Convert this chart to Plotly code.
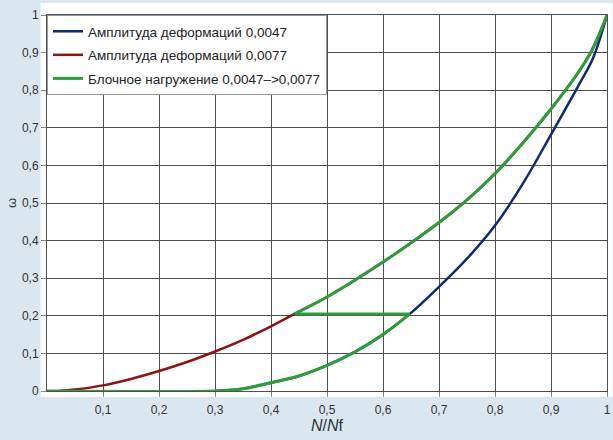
import plotly.graph_objects as go

# ---- data ----
# Amplitude 0.0047 (blue) damage curve
blue_x = [0.30, 0.35, 0.40, 0.45, 0.50, 0.55, 0.60, 0.648, 0.70, 0.75, 0.80, 0.85, 0.90, 0.95, 0.975, 1.00]
blue_y = [0.0, 0.006, 0.022, 0.040, 0.068, 0.104, 0.150, 0.205, 0.277, 0.352, 0.440, 0.552, 0.682, 0.815, 0.885, 1.0]

# Amplitude 0.0077 (red) damage curve
red_x = [0.02, 0.05, 0.10, 0.15, 0.20, 0.25, 0.30, 0.35, 0.40, 0.442, 0.50, 0.55, 0.60, 0.65, 0.70, 0.75, 0.80, 0.85, 0.90, 0.95, 0.975, 1.00]
red_y = [0.0, 0.004, 0.015, 0.032, 0.053, 0.077, 0.105, 0.136, 0.172, 0.205, 0.250, 0.295, 0.343, 0.394, 0.448, 0.508, 0.578, 0.660, 0.750, 0.850, 0.912, 1.0]

# Block loading 0.0047 -> 0.0077: start segment, switch points
block_start_x = [0.0]
block_start_y = [0.0]
switch_on_blue = 0.648
switch_on_red = 0.442

names = ["Амплитуда деформаций 0,0047",
         "Амплитуда деформаций 0,0077",
         "Блочное нагружение 0,0047–>0,0077"]

x_tickvals = [0.1, 0.2, 0.3, 0.4, 0.5, 0.6, 0.7, 0.8, 0.9, 1.0]
x_ticktext = ["0,1", "0,2", "0,3", "0,4", "0,5", "0,6", "0,7", "0,8", "0,9", "1"]
y_tickvals = [0, 0.1, 0.2, 0.3, 0.4, 0.5, 0.6, 0.7, 0.8, 0.9, 1.0]
y_ticktext = ["0", "0,1", "0,2", "0,3", "0,4", "0,5", "0,6", "0,7", "0,8", "0,9", "1"]

# ---- build block-loading path from the two curves ----
ib = blue_x.index(switch_on_blue)
ir = red_x.index(switch_on_red)
g_low_x = block_start_x + blue_x[:ib + 1]
g_low_y = block_start_y + blue_y[:ib + 1]
g_mid_x = [blue_x[ib], red_x[ir]]
g_mid_y = [blue_y[ib], red_y[ir]]
g_up_x = red_x[ir:]
g_up_y = red_y[ir:]

BLUE = "#0f2a6e"
RED = "#8a1518"
GREEN = "#2e9b3c"

fig = go.Figure()
fig.add_trace(go.Scatter(x=blue_x, y=blue_y, mode="lines", name=names[0],
                         legendgroup="b", line=dict(color=BLUE, width=2.5, shape="spline", smoothing=1.0)))
fig.add_trace(go.Scatter(x=red_x, y=red_y, mode="lines", name=names[1],
                         legendgroup="r", line=dict(color=RED, width=2.5, shape="spline", smoothing=1.0)))
fig.add_trace(go.Scatter(x=g_low_x, y=g_low_y, mode="lines", name=names[2],
                         legendgroup="g", line=dict(color=GREEN, width=3, shape="spline", smoothing=0.7)))
fig.add_trace(go.Scatter(x=g_mid_x, y=g_mid_y, mode="lines", name=names[2], showlegend=False,
                         legendgroup="g", line=dict(color=GREEN, width=3)))
fig.add_trace(go.Scatter(x=g_up_x, y=g_up_y, mode="lines", name=names[2], showlegend=False,
                         legendgroup="g", line=dict(color=GREEN, width=3, shape="spline", smoothing=1.0)))

GRID = "#505050"
FONT = "Liberation Sans, Arial, sans-serif"

fig.update_layout(
    width=613, height=440,
    margin=dict(l=47, r=2, t=15, b=49),
    paper_bgcolor="#dae6f0",
    plot_bgcolor="white",
    font=dict(family=FONT, size=12, color="#333333"),
    showlegend=True,
    legend=dict(x=0, y=1, xanchor="left", yanchor="top",
                bgcolor="white", bordercolor="#9a9a9a", borderwidth=1,
                font=dict(family=FONT, size=13.5, color="#222222"),
                traceorder="grouped", tracegroupgap=3, itemwidth=30),
    shapes=[dict(type="rect", xref="paper", yref="paper",
                 x0=-0.0115, x1=1.01, y0=-0.016, y1=1.032,
                 fillcolor="white", line=dict(width=0), layer="below")],
)

fig.update_xaxes(range=[0, 1], tickvals=x_tickvals, ticktext=x_ticktext,
                 showgrid=True, gridcolor=GRID, gridwidth=1,
                 showline=True, linecolor=GRID, linewidth=1, mirror=True,
                 zeroline=False, ticks="outside", ticklen=5, tickcolor="#888888",
                 ticklabelstandoff=3, ticklabeloverflow="allow",
                 tickfont=dict(size=12, color="#333333"),
                 title=dict(text="<i>N</i>/<i>N</i>f", font=dict(size=16, color="#333333"), standoff=0))
fig.update_yaxes(range=[0, 1], tickvals=y_tickvals, ticktext=y_ticktext,
                 showgrid=True, gridcolor=GRID, gridwidth=1,
                 showline=True, linecolor=GRID, linewidth=1, mirror=True,
                 zeroline=False, ticks="outside", ticklen=5, tickcolor="#888888",
                 tickfont=dict(size=12, color="#333333"),
                 title=dict(text="ω", font=dict(size=13, color="#333333"), standoff=2))

fig.write_html("out.html")
